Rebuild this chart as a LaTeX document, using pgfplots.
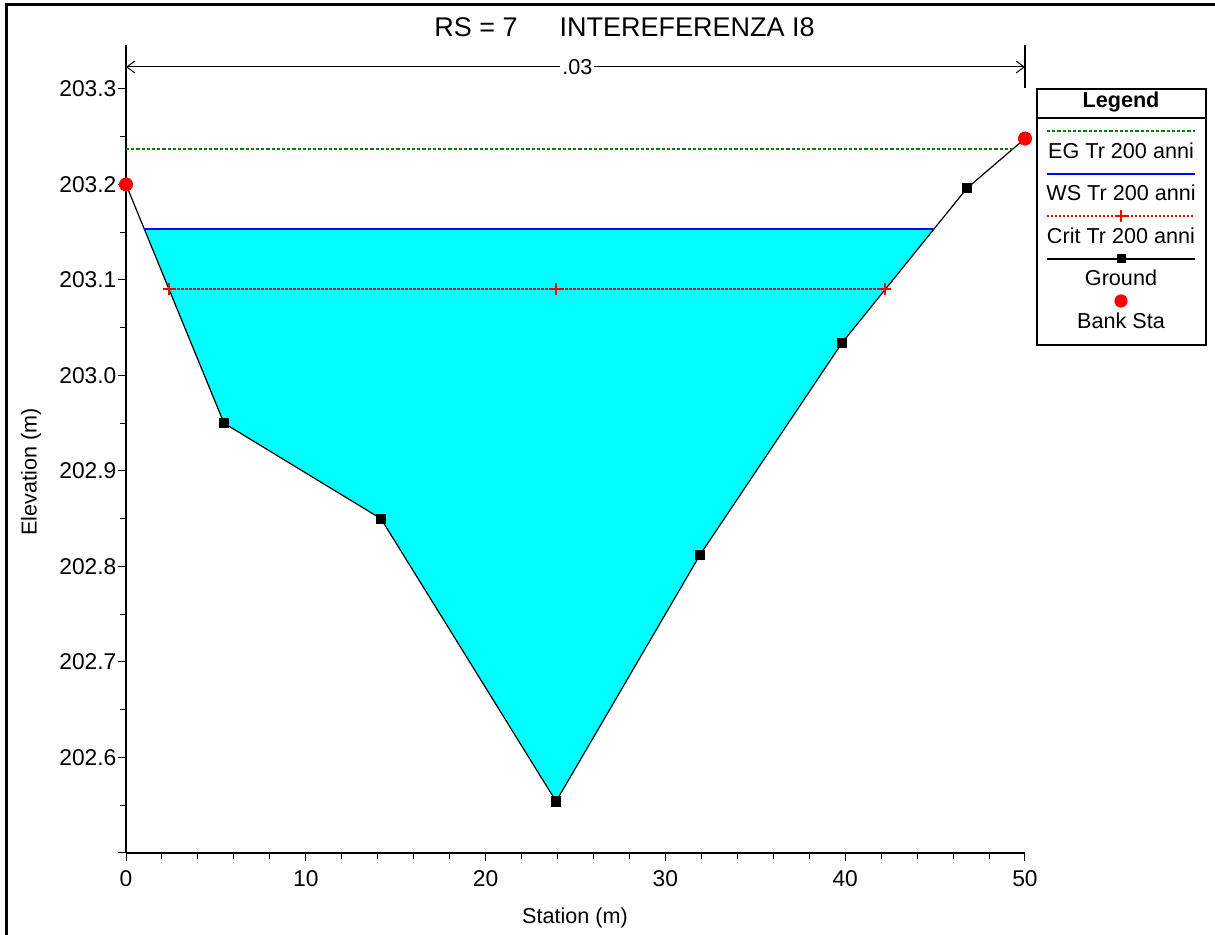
\documentclass[border=0pt]{standalone}
\usepackage{pgfplots}
\pgfplotsset{compat=1.18}
\usepackage{fontspec}
\setmainfont{Liberation Sans}
\usetikzlibrary{arrows.meta}
\definecolor{egreen}{RGB}{0,128,0}
\definecolor{wcyan}{RGB}{0,255,255}
\definecolor{wblue}{RGB}{0,0,255}
\definecolor{cred}{RGB}{255,0,0}
\begin{document}
\fontsize{10.8}{13}\selectfont
\begin{tikzpicture}
\begin{axis}[
  at={(0,0)}, anchor=south west,
  scale only axis, width=449.5pt, height=404pt,
  xmin=0, xmax=50, ymin=202.5, ymax=203.346,
  axis x line=bottom, axis y line=left,
  axis line style={-, line width=0.6pt, black},
  xtick={0,10,...,50}, minor xtick={2,4,...,48},
  ytick={202.6,202.7,...,203.31}, minor ytick={202.5,202.55,...,203.31},
  extra y ticks={202.5}, extra y tick labels={},
  tick align=outside,
  major tick length=4pt, minor tick length=2.8pt,
  tick style={black, line width=0.5pt},
  ticklabel style={font=\fontsize{11.4}{13}\selectfont},
  /pgf/number format/assume math mode=true,
  /pgf/number format/.cd, fixed, precision=1, fixed zerofill,
  /pgfplots/.cd,
  xticklabel style={/pgf/number format/fixed zerofill=false, /pgf/number format/precision=0},
  yticklabel style={xshift=3pt},
  xticklabel style={yshift=-1pt},
  clip=false,
]
% water fill
\addplot[fill=wcyan, draw=none] coordinates {
 (1.02,203.153) (5.45,202.95) (14.18,202.85) (23.92,202.554) (31.92,202.812) (39.82,203.034) (44.92,203.153)} -- cycle;
% Ground
\addplot[black, line width=0.6pt, mark=square*, mark size=2.3pt] coordinates {
 (0,203.2) (5.45,202.95) (14.18,202.85) (23.92,202.554) (31.92,202.812) (39.82,203.034) (46.77,203.196) (50,203.248)};
% EG
\addplot[egreen, dash pattern=on 1.6pt off 1pt, line width=0.6pt] coordinates {(0,203.237) (49.38,203.237)};
% WS
\addplot[wblue, line width=0.9pt] coordinates {(1.02,203.153) (44.92,203.153)};
% Crit
\addplot[cred, dash pattern=on 1.2pt off 0.8pt, line width=1pt] coordinates {(2.40,203.09) (42.22,203.09)};
\addplot[cred, only marks, mark=+, mark size=3pt, mark options={solid, line width=1pt}] coordinates {(2.40,203.09) (23.92,203.09) (42.22,203.09)};
% Bank stations
\addplot[cred, only marks, mark=*, mark size=3.3pt] coordinates {(0,203.2) (50,203.248)};
% Manning n arrow
\draw[line width=0.5pt, {Straight Barb[length=4pt,width=6pt]}-{Straight Barb[length=4pt,width=6pt]}] (axis cs:0,203.323) -- (axis cs:50,203.323)
  node[pos=0.502, fill=white, inner sep=1pt] {.03};
\draw[line width=0.6pt] (axis cs:50,203.346) -- (axis cs:50,203.301);
\end{axis}
\begin{scope}[x=0.5pt, y=-0.5pt, shift={(-63pt,426.5pt)}]
\useasboundingbox (0,0) rectangle (1215,935);
\draw[line width=1.5pt, black] (7,960) -- (7,5) -- (1240,5);
\node[anchor=base west, inner sep=0, font=\fontsize{13.5}{16}\selectfont] at (434,37) {RS = 7\hspace{21pt}INTEREFERENZA I8};
\node[anchor=center] at (575,918) {Station (m)};
\node[anchor=center, rotate=90] at (31,472) {Elevation (m)};
% legend
\draw[line width=0.6pt] (1037,89) rectangle (1206,345);
\draw[line width=0.6pt] (1037,118) -- (1206,118);
\node[font=\bfseries] at (1121,102) {Legend};
\draw[egreen, dash pattern=on 1.6pt off 1pt, line width=0.6pt] (1047,131) -- (1195,131);
\node at (1121,151) {EG Tr 200 anni};
\draw[wblue, line width=0.9pt] (1047,174) -- (1195,174);
\node at (1121,193) {WS Tr 200 anni};
\draw[cred, dash pattern=on 1.2pt off 0.8pt, line width=0.6pt] (1047,216) -- (1195,216);
\draw[cred, line width=0.6pt] (1115,216) -- (1127,216) (1121,210) -- (1121,222);
\node at (1121,236) {Crit Tr 200 anni};
\draw[black, line width=0.6pt] (1047,259) -- (1195,259);
\fill[black] (1116.5,254.5) rectangle (1125.5,263.5);
\node at (1121,278) {Ground};
\fill[cred] (1121,301) circle (6.6);
\node at (1121,321) {Bank Sta};
\end{scope}
\end{tikzpicture}
\end{document}
